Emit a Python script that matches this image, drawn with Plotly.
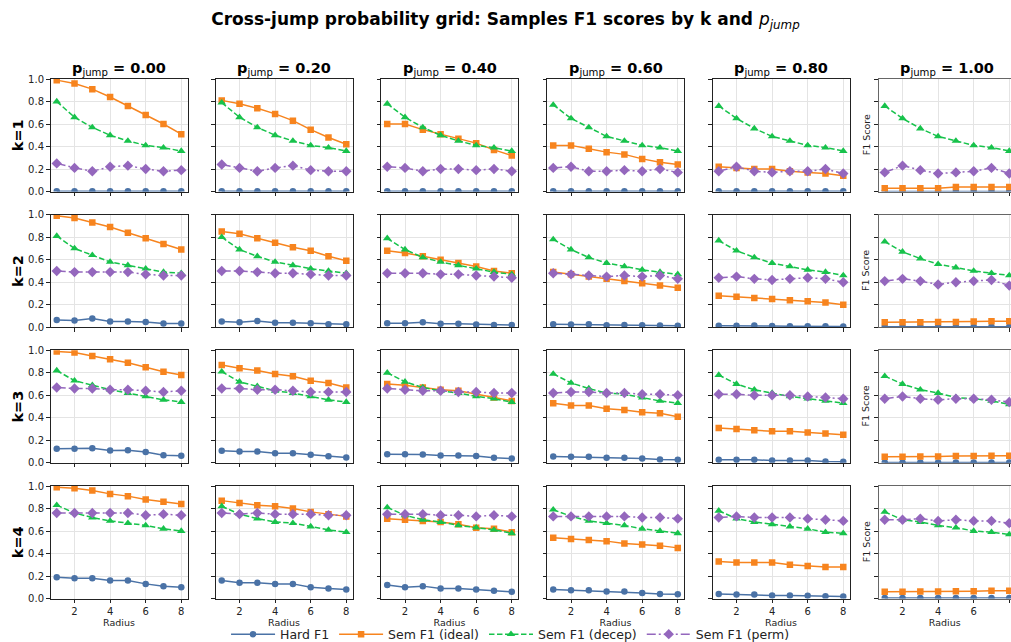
import plotly.graph_objects as go

W, H = 1011, 642

radius = [1, 2, 3, 4, 5, 6, 7, 8]
p_jump = [0.00, 0.20, 0.40, 0.60, 0.80, 1.00]
k_values = [1, 2, 3, 4]
x_ticks = [2, 4, 6, 8]
y_ticks = [0.0, 0.2, 0.4, 0.6, 0.8, 1.0]
y_tick_text = ["0.0", "0.2", "0.4", "0.6", "0.8", "1.0"]

# data[k_index][p_index] -> values over radius 1..8
hard_f1 = [
    [[0.002] * 8, [0.002] * 8, [0.002] * 8, [0.002] * 8, [0.002] * 8, [0.001] * 8],
    [[0.065, 0.060, 0.078, 0.050, 0.050, 0.047, 0.033, 0.033],
     [0.050, 0.045, 0.055, 0.040, 0.040, 0.035, 0.027, 0.027],
     [0.035, 0.035, 0.045, 0.030, 0.030, 0.025, 0.020, 0.020],
     [0.027, 0.024, 0.027, 0.018, 0.020, 0.018, 0.015, 0.012],
     [0.012, 0.012, 0.015, 0.010, 0.008, 0.008, 0.008, 0.006],
     [0.003, 0.003, 0.003, 0.003, 0.003, 0.003, 0.003, 0.003]],
    [[0.124, 0.124, 0.130, 0.110, 0.112, 0.095, 0.068, 0.062],
     [0.107, 0.100, 0.100, 0.086, 0.086, 0.071, 0.059, 0.047],
     [0.077, 0.077, 0.074, 0.065, 0.065, 0.060, 0.044, 0.038],
     [0.056, 0.053, 0.053, 0.044, 0.044, 0.038, 0.030, 0.027],
     [0.027, 0.027, 0.027, 0.020, 0.020, 0.020, 0.012, 0.010],
     [0.003, 0.003, 0.003, 0.003, 0.003, 0.003, 0.003, 0.003]],
    [[0.19, 0.18, 0.18, 0.16, 0.16, 0.13, 0.11, 0.10],
     [0.16, 0.14, 0.14, 0.13, 0.13, 0.10, 0.09, 0.08],
     [0.12, 0.10, 0.11, 0.09, 0.09, 0.08, 0.07, 0.06],
     [0.080, 0.074, 0.074, 0.062, 0.062, 0.050, 0.041, 0.038],
     [0.040, 0.035, 0.035, 0.027, 0.027, 0.024, 0.020, 0.018],
     [0.004, 0.004, 0.004, 0.004, 0.004, 0.004, 0.004, 0.004]],
]

sem_ideal = [
    [[0.99, 0.96, 0.91, 0.84, 0.76, 0.68, 0.60, 0.51],
     [0.81, 0.78, 0.74, 0.69, 0.63, 0.55, 0.48, 0.42],
     [0.60, 0.60, 0.55, 0.51, 0.47, 0.43, 0.37, 0.32],
     [0.41, 0.41, 0.38, 0.35, 0.33, 0.29, 0.26, 0.24],
     [0.22, 0.21, 0.20, 0.20, 0.18, 0.17, 0.16, 0.14],
     [0.03, 0.03, 0.03, 0.03, 0.04, 0.04, 0.04, 0.04]],
    [[0.99, 0.97, 0.93, 0.89, 0.84, 0.79, 0.74, 0.69],
     [0.85, 0.83, 0.79, 0.75, 0.71, 0.68, 0.63, 0.59],
     [0.68, 0.66, 0.63, 0.60, 0.57, 0.54, 0.50, 0.48],
     [0.49, 0.47, 0.45, 0.43, 0.41, 0.39, 0.37, 0.35],
     [0.28, 0.27, 0.26, 0.25, 0.24, 0.23, 0.22, 0.20],
     [0.045, 0.045, 0.045, 0.047, 0.047, 0.050, 0.053, 0.053]],
    [[0.99, 0.98, 0.95, 0.92, 0.89, 0.85, 0.81, 0.78],
     [0.87, 0.84, 0.82, 0.79, 0.77, 0.73, 0.71, 0.67],
     [0.70, 0.69, 0.67, 0.65, 0.64, 0.61, 0.58, 0.55],
     [0.53, 0.51, 0.51, 0.48, 0.47, 0.45, 0.44, 0.41],
     [0.31, 0.30, 0.29, 0.28, 0.28, 0.27, 0.26, 0.25],
     [0.053, 0.053, 0.056, 0.056, 0.060, 0.060, 0.062, 0.062]],
    [[0.99, 0.98, 0.96, 0.93, 0.91, 0.88, 0.86, 0.84],
     [0.87, 0.85, 0.83, 0.82, 0.80, 0.77, 0.75, 0.73],
     [0.71, 0.70, 0.69, 0.68, 0.66, 0.63, 0.62, 0.59],
     [0.54, 0.53, 0.52, 0.51, 0.49, 0.48, 0.47, 0.45],
     [0.33, 0.32, 0.32, 0.32, 0.30, 0.29, 0.28, 0.28],
     [0.060, 0.060, 0.062, 0.062, 0.065, 0.065, 0.068, 0.068]],
]

sem_decep = [
    [[0.80, 0.66, 0.57, 0.50, 0.45, 0.41, 0.39, 0.36],
     [0.79, 0.66, 0.57, 0.50, 0.45, 0.41, 0.39, 0.36],
     [0.78, 0.66, 0.57, 0.50, 0.45, 0.41, 0.39, 0.36],
     [0.77, 0.65, 0.57, 0.49, 0.45, 0.41, 0.39, 0.36],
     [0.76, 0.65, 0.56, 0.49, 0.45, 0.41, 0.39, 0.36],
     [0.76, 0.65, 0.56, 0.49, 0.45, 0.41, 0.39, 0.36]],
    [[0.81, 0.70, 0.64, 0.58, 0.55, 0.52, 0.49, 0.48],
     [0.80, 0.69, 0.63, 0.58, 0.55, 0.52, 0.50, 0.48],
     [0.79, 0.69, 0.62, 0.58, 0.55, 0.52, 0.49, 0.47],
     [0.78, 0.69, 0.62, 0.57, 0.54, 0.51, 0.49, 0.47],
     [0.77, 0.68, 0.62, 0.57, 0.54, 0.51, 0.49, 0.46],
     [0.76, 0.67, 0.61, 0.56, 0.53, 0.50, 0.48, 0.46]],
    [[0.82, 0.73, 0.69, 0.65, 0.62, 0.59, 0.56, 0.54],
     [0.81, 0.72, 0.68, 0.64, 0.62, 0.59, 0.56, 0.54],
     [0.80, 0.72, 0.67, 0.64, 0.62, 0.59, 0.57, 0.54],
     [0.79, 0.71, 0.66, 0.62, 0.61, 0.58, 0.55, 0.53],
     [0.78, 0.70, 0.65, 0.62, 0.59, 0.57, 0.55, 0.53],
     [0.77, 0.70, 0.65, 0.62, 0.58, 0.57, 0.55, 0.52]],
    [[0.83, 0.76, 0.72, 0.69, 0.67, 0.65, 0.62, 0.60],
     [0.82, 0.75, 0.71, 0.68, 0.67, 0.64, 0.61, 0.59],
     [0.81, 0.74, 0.70, 0.68, 0.65, 0.63, 0.61, 0.58],
     [0.79, 0.73, 0.69, 0.67, 0.65, 0.62, 0.60, 0.58],
     [0.78, 0.71, 0.68, 0.66, 0.64, 0.62, 0.59, 0.58],
     [0.77, 0.70, 0.68, 0.65, 0.63, 0.60, 0.59, 0.57]],
]

sem_perm = [
    [[0.25, 0.21, 0.18, 0.22, 0.23, 0.20, 0.18, 0.19],
     [0.24, 0.21, 0.18, 0.21, 0.23, 0.19, 0.18, 0.18],
     [0.22, 0.21, 0.18, 0.20, 0.20, 0.19, 0.20, 0.18],
     [0.21, 0.22, 0.18, 0.18, 0.19, 0.18, 0.20, 0.17],
     [0.18, 0.22, 0.18, 0.17, 0.18, 0.18, 0.20, 0.16],
     [0.17, 0.23, 0.19, 0.16, 0.17, 0.18, 0.21, 0.16]],
    [[0.50, 0.49, 0.49, 0.49, 0.49, 0.47, 0.46, 0.46],
     [0.50, 0.50, 0.49, 0.48, 0.48, 0.47, 0.46, 0.46],
     [0.48, 0.48, 0.48, 0.47, 0.47, 0.46, 0.45, 0.44],
     [0.48, 0.47, 0.46, 0.45, 0.46, 0.45, 0.46, 0.43],
     [0.44, 0.45, 0.43, 0.42, 0.43, 0.44, 0.43, 0.40],
     [0.41, 0.43, 0.41, 0.38, 0.40, 0.41, 0.42, 0.37]],
    [[0.67, 0.66, 0.66, 0.65, 0.65, 0.64, 0.63, 0.64],
     [0.66, 0.66, 0.65, 0.65, 0.64, 0.63, 0.63, 0.63],
     [0.66, 0.65, 0.64, 0.64, 0.63, 0.63, 0.62, 0.62],
     [0.62, 0.63, 0.63, 0.62, 0.62, 0.61, 0.61, 0.60],
     [0.61, 0.61, 0.60, 0.60, 0.60, 0.59, 0.58, 0.57],
     [0.57, 0.59, 0.57, 0.56, 0.57, 0.57, 0.56, 0.54]],
    [[0.76, 0.76, 0.76, 0.76, 0.76, 0.74, 0.75, 0.74],
     [0.76, 0.75, 0.76, 0.75, 0.75, 0.75, 0.74, 0.74],
     [0.75, 0.75, 0.75, 0.74, 0.74, 0.73, 0.74, 0.73],
     [0.73, 0.73, 0.73, 0.73, 0.73, 0.72, 0.72, 0.71],
     [0.72, 0.73, 0.72, 0.72, 0.72, 0.71, 0.70, 0.69],
     [0.70, 0.70, 0.71, 0.69, 0.70, 0.69, 0.69, 0.67]],
]

series = [
    ("Hard F1", hard_f1, "#4a72a6", "circle", "solid", 6.5),
    ("Sem F1 (ideal)", sem_ideal, "#f7841e", "square", "solid", 6.5),
    ("Sem F1 (decep)", sem_decep, "#17c24b", "triangle-up", "5.5px,2.5px", 7.5),
    ("Sem F1 (perm)", sem_perm, "#9467bd", "diamond", "9px,3px,2px,3px", 8),
]

FONT = "DejaVu Sans"
col_left_px = [50.5, 215.5, 381, 547, 712.5, 878.5]
panel_w = 137
row_top_px = [79, 214.7, 350.3, 486]
panel_h = 112.5
x_range = [0.65, 8.35]
px_per_unit = panel_w / (x_range[1] - x_range[0])

fig = go.Figure()
layout = {}
annotations = []

for r, k in enumerate(k_values):
    for c, p in enumerate(p_jump):
        idx = r * len(p_jump) + c + 1
        sfx = "" if idx == 1 else str(idx)
        left = col_left_px[c]
        right = left + panel_w
        xr = list(x_range)
        clipped = False
        if right > W:
            xr[1] = x_range[0] + (W - left) / px_per_unit
            right = W
            clipped = True
        top = row_top_px[r]
        bottom = top + panel_h
        line_col = "#666666" if clipped else "#222222"
        layout["xaxis" + sfx] = dict(
            domain=[left / W, right / W], anchor="y" + sfx, range=xr,
            tickvals=x_ticks, showticklabels=(r == len(k_values) - 1),
            ticks="outside", ticklen=3.5, tickwidth=0.8, tickcolor="#222222",
            showgrid=True, gridcolor="#e4e4e4", gridwidth=0.8,
            showline=True, linecolor=line_col, linewidth=1, mirror=True,
            zeroline=False, automargin=False,
            tickfont=dict(family=FONT, size=10, color="#222222"),
            title=dict(text="Radius", font=dict(family=FONT, size=9.5, color="#222222"), standoff=1)
            if r == len(k_values) - 1 else None,
        )
        layout["yaxis" + sfx] = dict(
            domain=[1 - bottom / H, 1 - top / H], anchor="x" + sfx, range=[0, 1],
            tickvals=y_ticks, ticktext=y_tick_text, showticklabels=(c == 0),
            ticks="outside", ticklen=3.5, tickwidth=0.8, tickcolor="#222222",
            showgrid=True, gridcolor="#e4e4e4", gridwidth=0.8,
            showline=True, linecolor=line_col, linewidth=1, mirror=(not clipped),
            zeroline=False, automargin=False,
            tickfont=dict(family=FONT, size=10, color="#222222"),
        )
        for name, data, color, symbol, dash, msize in series:
            fig.add_trace(go.Scatter(
                x=radius, y=data[r][c], xaxis="x" + sfx, yaxis="y" + sfx,
                mode="lines+markers", name=name, legendgroup=name,
                showlegend=(idx == 1),
                line=dict(color=color, width=1.5, dash=dash),
                marker=dict(symbol=symbol, size=msize, color=color),
            ))
        if r == 0:
            annotations.append(dict(
                text="<b>p</b><sub>jump</sub><b> = %.2f</b>" % p,
                x=(left + panel_w / 2) / W, y=1 - 69 / H, xref="paper", yref="paper",
                xanchor="center", yanchor="middle", showarrow=False,
                font=dict(family=FONT, size=14.5, color="#000000"),
            ))
        if clipped:
            annotations.append(dict(
                text="F1 Score", textangle=-90,
                x=866 / W, y=1 - (top + panel_h / 2) / H, xref="paper", yref="paper",
                xanchor="center", yanchor="middle", showarrow=False,
                font=dict(family=FONT, size=9.5, color="#222222"),
            ))
    annotations.append(dict(
        text="<b>k=%d</b>" % k, textangle=-90,
        x=18 / W, y=1 - (row_top_px[r] + panel_h / 2) / H, xref="paper", yref="paper",
        xanchor="center", yanchor="middle", showarrow=False,
        font=dict(family=FONT, size=14.5, color="#000000"),
    ))

fig.update_layout(
    width=W, height=H,
    margin=dict(l=0, r=0, t=0, b=0, autoexpand=False),
    paper_bgcolor="white", plot_bgcolor="white",
    font=dict(family=FONT, color="#222222"),
    title=dict(
        text="<b>Cross-jump probability grid: Samples F1 scores by k and </b><i>p</i><sub><i>jump</i></sub>",
        x=0.5, xanchor="center", y=1 - 19 / H, yanchor="middle",
        font=dict(family=FONT, size=17, color="#000000"),
    ),
    legend=dict(
        orientation="h", x=0.505, xanchor="center", y=1 - 634.5 / H, yanchor="middle",
        font=dict(family=FONT, size=12.5, color="#222222"),
        bgcolor="rgba(0,0,0,0)", itemwidth=44,
    ),
    annotations=annotations,
    showlegend=True,
    **layout,
)

fig.write_html("out.html")
